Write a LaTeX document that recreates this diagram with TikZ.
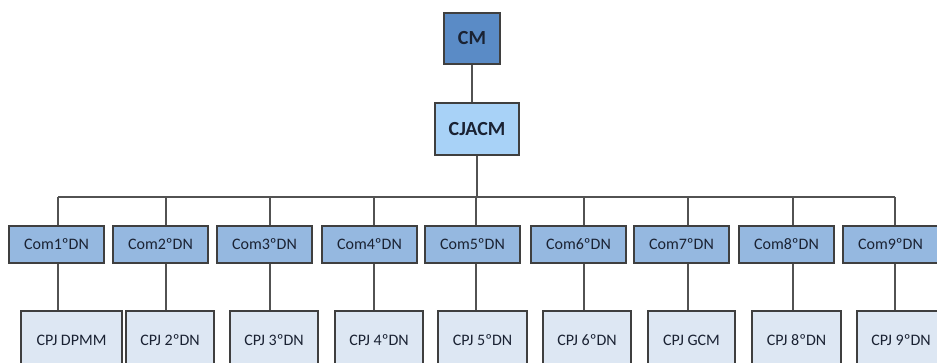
\documentclass[tikz,border=0pt]{standalone}
\usepackage{fontspec}
\setmainfont{Carlito}
\definecolor{cmfill}{HTML}{5A8BC6}
\definecolor{cjfill}{HTML}{A8D2F7}
\definecolor{comfill}{HTML}{95B8E0}
\definecolor{cpjfill}{HTML}{DDE7F3}
\definecolor{bordercol}{HTML}{3F3F3F}
\definecolor{txtcol}{HTML}{1A2233}
\begin{document}
\begin{tikzpicture}[x=1pt,y=-1pt,
  box/.style={draw=bordercol,line width=1.4pt,inner sep=0pt,text=txtcol},
  topbox/.style={box,font=\fontsize{20}{22}\selectfont\bfseries},
  combox/.style={box,fill=comfill,minimum width=95pt,minimum height=37pt,font=\fontsize{16}{18}\selectfont},
  cpjbox/.style={box,fill=cpjfill,minimum height=58pt,font=\fontsize{16}{18}\selectfont},
  conn/.style={draw=bordercol!90,line width=1.1pt}]
\clip (0,0) rectangle (937,363);
\fill[white] (0,0) rectangle (937,363);
% top
\node[topbox,fill=cmfill,minimum width=56pt,minimum height=51pt] (cm) at (472,38.5) {CM};
\node[topbox,fill=cjfill,minimum width=84pt,minimum height=52pt] (cj) at (477,129) {CJACM};
% Com row
\node[combox] (c1) at (56.5,244.5) {Com1ºDN};
\node[combox] (c2) at (160.5,244.5) {Com2ºDN};
\node[combox] (c3) at (264.5,244.5) {Com3ºDN};
\node[combox] (c4) at (369.5,244.5) {Com4ºDN};
\node[combox] (c5) at (472.5,244.5) {Com5ºDN};
\node[combox] (c6) at (578.5,244.5) {Com6ºDN};
\node[combox] (c7) at (681.5,244.5) {Com7ºDN};
\node[combox] (c8) at (786.5,244.5) {Com8ºDN};
\node[combox] (c9) at (890.5,244.5) {Com9ºDN};
% CPJ row
\node[cpjbox,minimum width=101pt] (p1) at (71.5,340) {CPJ DPMM};
\node[cpjbox,minimum width=88pt] (p2) at (170,340) {CPJ 2ºDN};
\node[cpjbox,minimum width=88pt] (p3) at (274,340) {CPJ 3ºDN};
\node[cpjbox,minimum width=88pt] (p4) at (379,340) {CPJ 4ºDN};
\node[cpjbox,minimum width=89pt] (p5) at (482.5,340) {CPJ 5ºDN};
\node[cpjbox,minimum width=88pt] (p6) at (587,340) {CPJ 6ºDN};
\node[cpjbox,minimum width=87pt] (p7) at (691.5,340) {CPJ GCM};
\node[cpjbox,minimum width=89pt] (p8) at (796.5,340) {CPJ 8ºDN};
\node[cpjbox,minimum width=88pt] (p9) at (901,340) {CPJ 9ºDN};
% bus coordinates
\coordinate (v1) at (58,197);
\coordinate (v2) at (166,197);
\coordinate (v3) at (270,197);
\coordinate (v4) at (374,197);
\coordinate (v5) at (476,197);
\coordinate (v6) at (584,197);
\coordinate (v7) at (688,197);
\coordinate (v8) at (793,197);
\coordinate (v9) at (895,197);
% connectors
\draw[conn] (cm.south) -- (cm.south |- cj.north);
\draw[conn] (cj.south) -- (cj.south |- v5);
\draw[conn] (v1) -- (v9);
\foreach \i in {1,...,9}{
  \draw[conn] (v\i) -- (v\i |- c\i.north);
  \draw[conn] (v\i |- c\i.south) -- (v\i |- p\i.north);
}
\end{tikzpicture}
\end{document}
